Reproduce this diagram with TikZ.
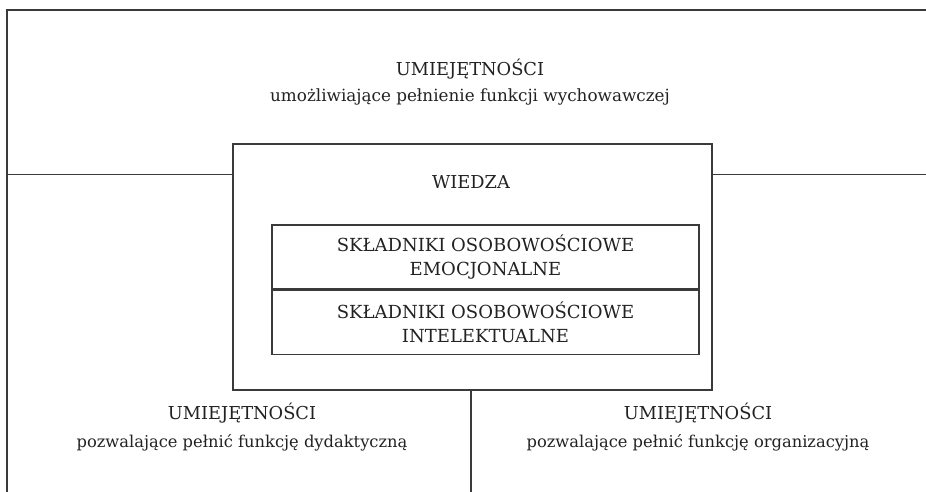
\documentclass[tikz,border=0pt]{standalone}
\usepackage{fontspec}
\setmainfont{DejaVu Serif}
\definecolor{lineC}{HTML}{3A3A3A}
\definecolor{textC}{HTML}{222222}
\begin{document}
\begin{tikzpicture}[x=1pt,y=-1pt,
  frameline/.style={draw=lineC,line width=1.3pt},
  txt/.style={text=textC,inner sep=0pt,anchor=base,font=\fontsize{16.8}{25}\selectfont},
  smalltxt/.style={txt,font=\fontsize{16.3}{25}\selectfont},
  captxt/.style={text=textC,inner sep=0pt,anchor=base,font=\fontsize{17.8}{25}\selectfont},
  boxtxt/.style={text=textC,align=center,font=\fontsize{18}{24}\selectfont},
  cbox/.style={draw=lineC,line width=1.3pt,inner sep=0pt}]
\useasboundingbox (0,0) rectangle (926,492);
% frame
\coordinate (fbl) at (7,492);
\coordinate (ftl) at (7,10);
\coordinate (ftr) at (926,10);
\draw[frameline] (fbl) -- (ftl) -- (ftr);
% central box
\node[cbox,minimum width=479pt,minimum height=246pt] (wbox) at (472.5,267) {};
\coordinate (hl) at (7,174.5);
\coordinate (hr) at (926,174.5);
\draw[frameline] (hl) -- (hl -| wbox.west);
\draw[frameline] (hr -| wbox.east) -- (hr);
\coordinate (vb) at (471,492);
\draw[frameline] (vb |- wbox.south) -- (vb);
% inner boxes
\node[cbox,minimum width=427pt,minimum height=64pt,boxtxt] (emo) at (485.5,257) {SKŁADNIKI OSOBOWOŚCIOWE\\EMOCJONALNE};
\node[cbox,minimum width=427pt,minimum height=64pt,boxtxt,anchor=north] (int) at (emo.south) {SKŁADNIKI OSOBOWOŚCIOWE\\INTELEKTUALNE};
% texts
\node[captxt] (t1) at (470,75.5) {UMIEJĘTNOŚCI};
\node[txt] (t2) at (470,102) {umożliwiające pełnienie funkcji wychowawczej};
\node[captxt] (w) at (471,188.5) {WIEDZA};
\node[captxt] (l1) at (242,419.5) {UMIEJĘTNOŚCI};
\node[smalltxt] (l2) at (242,447) {pozwalające pełnić funkcję dydaktyczną};
\node[captxt] (r1) at (698,419.5) {UMIEJĘTNOŚCI};
\node[smalltxt] (r2) at (698,447) {pozwalające pełnić funkcję organizacyjną};
\end{tikzpicture}
\end{document}
